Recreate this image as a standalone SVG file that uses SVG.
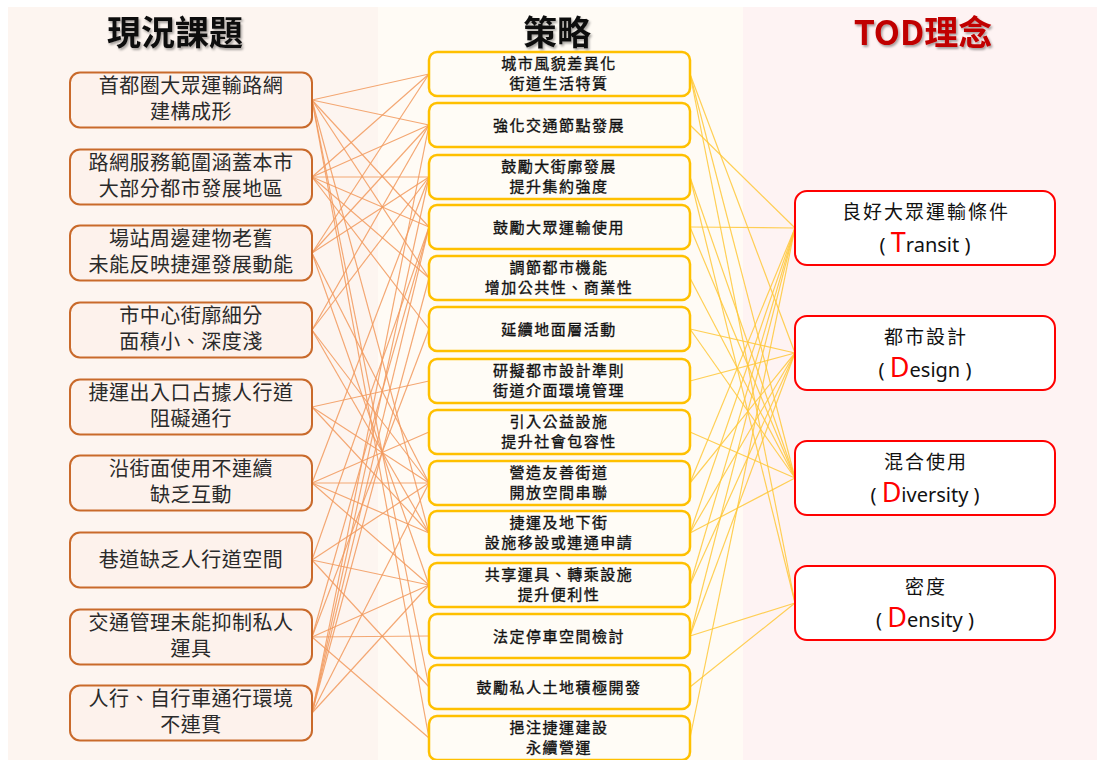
<svg xmlns="http://www.w3.org/2000/svg" width="1105" height="760" viewBox="0 0 1105 760">
<defs>
<filter id="sh" x="-10%" y="-20%" width="130%" height="150%">
<feDropShadow dx="1.5" dy="2" stdDeviation="1.2" flood-color="#000" flood-opacity="0.35"/>
</filter>
</defs>
<style>
.hd{font-family:"Noto Sans CJK TC","Liberation Sans",sans-serif;font-size:34px;font-weight:bold;text-anchor:middle}
.lb{fill:#fdf2ec;stroke:#c96a2b;stroke-width:2}
.mb{fill:#fffcf6;stroke:#ffc000;stroke-width:2.5}
.rb{fill:#ffffff;stroke:#ff0000;stroke-width:2}
.lt{font-family:"Noto Sans CJK TC","Liberation Sans",sans-serif;font-size:20px;fill:#2a2a2a;text-anchor:middle;letter-spacing:0.5px}
.mt{font-family:"Noto Sans CJK TC","Liberation Sans",sans-serif;font-size:15px;letter-spacing:1.5px;fill:#111;stroke:#111;stroke-width:0.35;text-anchor:middle}
.rt{font-family:"Noto Sans CJK TC","Liberation Sans",sans-serif;font-size:19px;letter-spacing:2px;fill:#111;text-anchor:middle}
.re{font-family:"Noto Sans","Liberation Sans",sans-serif;font-size:20px;fill:#111;text-anchor:middle}
.big{fill:#ff0000;font-size:27px}
.c1{stroke:#f29a5e;stroke-width:1.2;opacity:0.85}
.c2{stroke:#ffc83a;stroke-width:1.2;opacity:0.85}
</style>
<rect x="8" y="7" width="370" height="753" fill="#fdf5f0"/>
<rect x="378" y="7" width="365" height="753" fill="#fffbf5"/>
<rect x="743" y="7" width="354" height="753" fill="#fef3f3"/>
<text class="hd" x="175" y="45" fill="#111" filter="url(#sh)">現況課題</text>
<text class="hd" x="557" y="45" fill="#111" filter="url(#sh)">策略</text>
<text class="hd" x="923" y="45" fill="#c00000" filter="url(#sh)">TOD理念</text>
<g id="connectors">
<line class="c1" x1="312" y1="100" x2="429" y2="74"/>
<line class="c1" x1="312" y1="100" x2="429" y2="125"/>
<line class="c1" x1="312" y1="100" x2="429" y2="227"/>
<line class="c1" x1="312" y1="100" x2="429" y2="278"/>
<line class="c1" x1="312" y1="100" x2="429" y2="533"/>
<line class="c1" x1="312" y1="100" x2="429" y2="687"/>
<line class="c1" x1="312" y1="100" x2="429" y2="738"/>
<line class="c1" x1="312" y1="177" x2="429" y2="74"/>
<line class="c1" x1="312" y1="177" x2="429" y2="125"/>
<line class="c1" x1="312" y1="177" x2="429" y2="177"/>
<line class="c1" x1="312" y1="177" x2="429" y2="227"/>
<line class="c1" x1="312" y1="177" x2="429" y2="278"/>
<line class="c1" x1="312" y1="177" x2="429" y2="329"/>
<line class="c1" x1="312" y1="253" x2="429" y2="74"/>
<line class="c1" x1="312" y1="253" x2="429" y2="125"/>
<line class="c1" x1="312" y1="253" x2="429" y2="177"/>
<line class="c1" x1="312" y1="253" x2="429" y2="483"/>
<line class="c1" x1="312" y1="253" x2="429" y2="585"/>
<line class="c1" x1="312" y1="330" x2="429" y2="125"/>
<line class="c1" x1="312" y1="330" x2="429" y2="177"/>
<line class="c1" x1="312" y1="330" x2="429" y2="483"/>
<line class="c1" x1="312" y1="330" x2="429" y2="533"/>
<line class="c1" x1="312" y1="407" x2="429" y2="381"/>
<line class="c1" x1="312" y1="407" x2="429" y2="483"/>
<line class="c1" x1="312" y1="407" x2="429" y2="533"/>
<line class="c1" x1="312" y1="483" x2="429" y2="177"/>
<line class="c1" x1="312" y1="483" x2="429" y2="432"/>
<line class="c1" x1="312" y1="483" x2="429" y2="483"/>
<line class="c1" x1="312" y1="483" x2="429" y2="533"/>
<line class="c1" x1="312" y1="483" x2="429" y2="585"/>
<line class="c1" x1="312" y1="560" x2="429" y2="227"/>
<line class="c1" x1="312" y1="560" x2="429" y2="483"/>
<line class="c1" x1="312" y1="560" x2="429" y2="585"/>
<line class="c1" x1="312" y1="560" x2="429" y2="687"/>
<line class="c1" x1="312" y1="637" x2="429" y2="227"/>
<line class="c1" x1="312" y1="637" x2="429" y2="329"/>
<line class="c1" x1="312" y1="637" x2="429" y2="585"/>
<line class="c1" x1="312" y1="637" x2="429" y2="636"/>
<line class="c1" x1="312" y1="637" x2="429" y2="738"/>
<line class="c1" x1="312" y1="713" x2="429" y2="125"/>
<line class="c1" x1="312" y1="713" x2="429" y2="177"/>
<line class="c1" x1="312" y1="713" x2="429" y2="227"/>
<line class="c1" x1="312" y1="713" x2="429" y2="278"/>
<line class="c1" x1="312" y1="713" x2="429" y2="483"/>
<line class="c1" x1="312" y1="713" x2="429" y2="585"/>
<line class="c2" x1="690" y1="74" x2="795" y2="353"/>
<line class="c2" x1="690" y1="74" x2="795" y2="478"/>
<line class="c2" x1="690" y1="74" x2="795" y2="603"/>
<line class="c2" x1="690" y1="125" x2="795" y2="228"/>
<line class="c2" x1="690" y1="177" x2="795" y2="478"/>
<line class="c2" x1="690" y1="177" x2="795" y2="603"/>
<line class="c2" x1="690" y1="227" x2="795" y2="228"/>
<line class="c2" x1="690" y1="227" x2="795" y2="478"/>
<line class="c2" x1="690" y1="278" x2="795" y2="478"/>
<line class="c2" x1="690" y1="329" x2="795" y2="353"/>
<line class="c2" x1="690" y1="329" x2="795" y2="478"/>
<line class="c2" x1="690" y1="381" x2="795" y2="353"/>
<line class="c2" x1="690" y1="432" x2="795" y2="478"/>
<line class="c2" x1="690" y1="483" x2="795" y2="228"/>
<line class="c2" x1="690" y1="483" x2="795" y2="353"/>
<line class="c2" x1="690" y1="533" x2="795" y2="228"/>
<line class="c2" x1="690" y1="533" x2="795" y2="353"/>
<line class="c2" x1="690" y1="533" x2="795" y2="478"/>
<line class="c2" x1="690" y1="585" x2="795" y2="228"/>
<line class="c2" x1="690" y1="585" x2="795" y2="353"/>
<line class="c2" x1="690" y1="636" x2="795" y2="228"/>
<line class="c2" x1="690" y1="636" x2="795" y2="353"/>
<line class="c2" x1="690" y1="636" x2="795" y2="603"/>
<line class="c2" x1="690" y1="687" x2="795" y2="603"/>
<line class="c2" x1="690" y1="738" x2="795" y2="228"/>
</g>
<g id="L1"><rect class="lb" x="70" y="72.5" width="242" height="55" rx="10"/><text class="lt" x="191" y="93">首都圈大眾運輸路網</text><text class="lt" x="191" y="119">建構成形</text></g>
<g id="L2"><rect class="lb" x="70" y="149.5" width="242" height="55" rx="10"/><text class="lt" x="191" y="170">路網服務範圍涵蓋本市</text><text class="lt" x="191" y="196">大部分都市發展地區</text></g>
<g id="L3"><rect class="lb" x="70" y="225.5" width="242" height="55" rx="10"/><text class="lt" x="191" y="246">場站周邊建物老舊</text><text class="lt" x="191" y="272">未能反映捷運發展動能</text></g>
<g id="L4"><rect class="lb" x="70" y="302.5" width="242" height="55" rx="10"/><text class="lt" x="191" y="323">市中心街廓細分</text><text class="lt" x="191" y="349">面積小、深度淺</text></g>
<g id="L5"><rect class="lb" x="70" y="379.5" width="242" height="55" rx="10"/><text class="lt" x="191" y="400">捷運出入口占據人行道</text><text class="lt" x="191" y="426">阻礙通行</text></g>
<g id="L6"><rect class="lb" x="70" y="455.5" width="242" height="55" rx="10"/><text class="lt" x="191" y="476">沿街面使用不連續</text><text class="lt" x="191" y="502">缺乏互動</text></g>
<g id="L7"><rect class="lb" x="70" y="532.5" width="242" height="55" rx="10"/><text class="lt" x="191" y="567">巷道缺乏人行道空間</text></g>
<g id="L8"><rect class="lb" x="70" y="609.5" width="242" height="55" rx="10"/><text class="lt" x="191" y="630">交通管理未能抑制私人</text><text class="lt" x="191" y="656">運具</text></g>
<g id="L9"><rect class="lb" x="70" y="685.5" width="242" height="55" rx="10"/><text class="lt" x="191" y="706">人行、自行車通行環境</text><text class="lt" x="191" y="732">不連貫</text></g>
<g id="M1"><rect class="mb" x="429" y="52" width="261" height="44" rx="8"/><text class="mt" x="559" y="69">城市風貌差異化</text><text class="mt" x="559" y="89">街道生活特質</text></g>
<g id="M2"><rect class="mb" x="429" y="103" width="261" height="44" rx="8"/><text class="mt" x="559" y="130.5">強化交通節點發展</text></g>
<g id="M3"><rect class="mb" x="429" y="155" width="261" height="44" rx="8"/><text class="mt" x="559" y="172">鼓勵大街廓發展</text><text class="mt" x="559" y="192">提升集約強度</text></g>
<g id="M4"><rect class="mb" x="429" y="205" width="261" height="44" rx="8"/><text class="mt" x="559" y="232.5">鼓勵大眾運輸使用</text></g>
<g id="M5"><rect class="mb" x="429" y="256" width="261" height="44" rx="8"/><text class="mt" x="559" y="273">調節都市機能</text><text class="mt" x="559" y="293">增加公共性、商業性</text></g>
<g id="M6"><rect class="mb" x="429" y="307" width="261" height="44" rx="8"/><text class="mt" x="559" y="334.5">延續地面層活動</text></g>
<g id="M7"><rect class="mb" x="429" y="359" width="261" height="44" rx="8"/><text class="mt" x="559" y="376">研擬都市設計準則</text><text class="mt" x="559" y="396">街道介面環境管理</text></g>
<g id="M8"><rect class="mb" x="429" y="410" width="261" height="44" rx="8"/><text class="mt" x="559" y="427">引入公益設施</text><text class="mt" x="559" y="447">提升社會包容性</text></g>
<g id="M9"><rect class="mb" x="429" y="461" width="261" height="44" rx="8"/><text class="mt" x="559" y="478">營造友善街道</text><text class="mt" x="559" y="498">開放空間串聯</text></g>
<g id="M10"><rect class="mb" x="429" y="511" width="261" height="44" rx="8"/><text class="mt" x="559" y="528">捷運及地下街</text><text class="mt" x="559" y="548">設施移設或連通申請</text></g>
<g id="M11"><rect class="mb" x="429" y="563" width="261" height="44" rx="8"/><text class="mt" x="559" y="580">共享運具、轉乘設施</text><text class="mt" x="559" y="600">提升便利性</text></g>
<g id="M12"><rect class="mb" x="429" y="614" width="261" height="44" rx="8"/><text class="mt" x="559" y="641.5">法定停車空間檢討</text></g>
<g id="M13"><rect class="mb" x="429" y="665" width="261" height="44" rx="8"/><text class="mt" x="559" y="692.5">鼓勵私人土地積極開發</text></g>
<g id="M14"><rect class="mb" x="429" y="716" width="261" height="44" rx="8"/><text class="mt" x="559" y="733">挹注捷運建設</text><text class="mt" x="559" y="753">永續營運</text></g>
<g id="R1"><rect class="rb" x="795" y="191" width="260" height="74" rx="12"/><text class="rt" x="926" y="219">良好大眾運輸條件</text><text class="re" x="925" y="252">( <tspan class="big">T</tspan>ransit )</text></g>
<g id="R2"><rect class="rb" x="795" y="316" width="260" height="74" rx="12"/><text class="rt" x="926" y="344">都市設計</text><text class="re" x="925" y="377">( <tspan class="big">D</tspan>esign )</text></g>
<g id="R3"><rect class="rb" x="795" y="441" width="260" height="74" rx="12"/><text class="rt" x="926" y="469">混合使用</text><text class="re" x="925" y="502">( <tspan class="big">D</tspan>iversity )</text></g>
<g id="R4"><rect class="rb" x="795" y="566" width="260" height="74" rx="12"/><text class="rt" x="926" y="594">密度</text><text class="re" x="925" y="627">( <tspan class="big">D</tspan>ensity )</text></g>
</svg>
